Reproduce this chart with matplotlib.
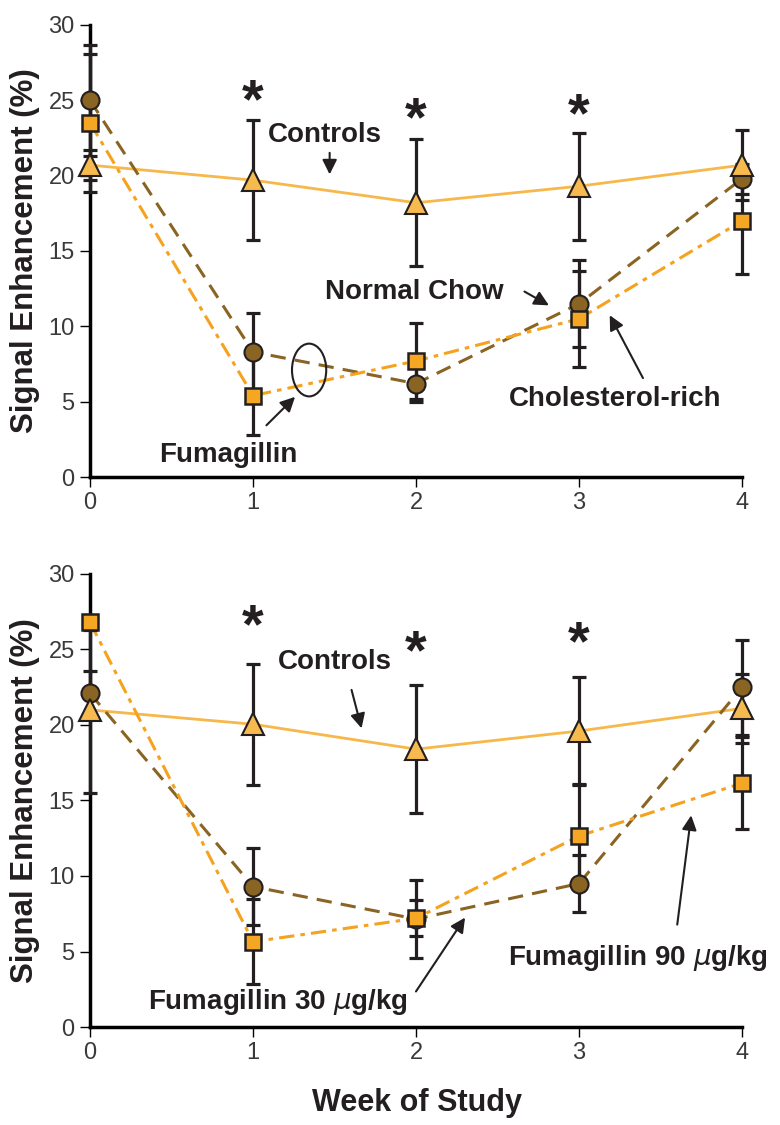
import matplotlib
matplotlib.use("Agg")
import matplotlib.pyplot as plt
from matplotlib.patches import Ellipse

plt.rcParams['font.family'] = ['Liberation Sans', 'DejaVu Sans']

# data
weeks = [0, 1, 2, 3, 4]

# top panel
top_controls = [20.7, 19.7, 18.2, 19.3, 20.7]
top_controls_err = [1.0, 4.0, 4.2, 3.55, 2.3]
top_chow = [25.0, 8.3, 6.2, 11.5, 19.8]
top_chow_err = [3.7, 2.6, 1.2, 2.9, 1.0]
top_chol = [23.5, 5.4, 7.7, 10.5, 17.0]
top_chol_err = [4.6, 2.6, 2.5, 3.2, 3.5]
top_star_weeks = [1, 2, 3]
top_star_y = [24.8, 23.6, 23.9]

# bottom panel
bot_controls = [21.0, 20.05, 18.4, 19.6, 21.1]
bot_controls_err = [5.5, 4.0, 4.25, 3.55, 2.3]
bot_fum30 = [22.1, 9.3, 7.15, 9.5, 22.5]
bot_fum30_err = [1.5, 2.55, 2.6, 1.9, 3.15]
bot_fum90 = [26.8, 5.65, 7.2, 12.65, 16.15]
bot_fum90_err = [0.5, 2.8, 1.2, 3.45, 3.05]
bot_star_weeks = [1, 2, 3]
bot_star_y = [26.4, 24.7, 25.3]

yticks = [0, 5, 10, 15, 20, 25, 30]

c_ctrl = "#F7B84B"
c_tri = "#F6BA4E"
c_sq = "#F5A623"
c_brown = "#8A6422"
c_line_sq = "#F5A21E"
c_ink = "#231F20"

fig = plt.figure(figsize=(7.8, 11.25), dpi=100)
ax1 = fig.add_axes([0.1154, 0.576, 0.836, 0.4018])
ax2 = fig.add_axes([0.1154, 0.0871, 0.836, 0.4027])


def draw_panel(ax, ctrl, ctrl_err, circ, circ_err, sq, sq_err, star_w, star_y):
    # lines
    ax.plot(weeks, ctrl, color=c_ctrl, lw=2.0, zorder=2, clip_on=False)
    ax.plot(weeks, circ, color=c_brown, lw=2.2, dashes=(5, 3), zorder=2, clip_on=False)
    ax.plot(weeks, sq, color=c_line_sq, lw=2.2, dashes=(5, 2, 1.5, 2), zorder=2, clip_on=False)
    # error bars
    for vals, errs in [(ctrl, ctrl_err), (circ, circ_err), (sq, sq_err)]:
        ax.errorbar(weeks, vals, yerr=errs, fmt='none', ecolor=c_ink,
                    elinewidth=2.3, capsize=5, capthick=2.3, zorder=3, clip_on=False)
    # markers
    ax.plot(weeks, circ, 'o', ms=13, mfc=c_brown, mec=c_ink, mew=1.5, zorder=4, clip_on=False)
    ax.plot(weeks, sq, 's', ms=12, mfc=c_sq, mec=c_ink, mew=1.8, zorder=5, clip_on=False)
    ax.plot(weeks, ctrl, '^', ms=16, mfc=c_tri, mec=c_ink, mew=1.5, zorder=6, clip_on=False)
    # asterisks
    for w, y in zip(star_w, star_y):
        ax.text(w, y, "*", ha='center', va='center', fontsize=40, fontweight='bold',
                color=c_ink)

    ax.set_xlim(0, 4)
    ax.set_ylim(0, 30)
    ax.set_xticks(weeks)
    ax.set_yticks(yticks)
    ax.spines['top'].set_visible(False)
    ax.spines['right'].set_visible(False)
    ax.spines['left'].set_linewidth(2.5)
    ax.spines['bottom'].set_linewidth(2.5)
    ax.tick_params(axis='both', direction='out', length=7, width=1.0,
                   labelsize=17, labelcolor='#3a3a3a', pad=4)
    ax.set_ylabel("Signal Enhancement (%)", fontsize=22.5, fontweight='bold',
                  color=c_ink, labelpad=6)


draw_panel(ax1, top_controls, top_controls_err, top_chow, top_chow_err,
           top_chol, top_chol_err, top_star_weeks, top_star_y)
draw_panel(ax2, bot_controls, bot_controls_err, bot_fum30, bot_fum30_err,
           bot_fum90, bot_fum90_err, bot_star_weeks, bot_star_y)

arrow = dict(arrowstyle='-|>', color=c_ink, lw=1.5, mutation_scale=22)
fs = 20

# top annotations
ax1.text(1.44, 22.7, "Controls", ha='center', va='center', fontsize=fs, fontweight='bold', color=c_ink)
ax1.annotate("", xy=(1.47, 19.9), xytext=(1.47, 21.7), arrowprops=arrow)
ax1.text(1.99, 12.3, "Normal Chow", ha='center', va='center', fontsize=fs, fontweight='bold', color=c_ink)
ax1.annotate("", xy=(2.83, 11.3), xytext=(2.65, 12.4), arrowprops=arrow)
ax1.text(3.22, 5.2, "Cholesterol-rich", ha='center', va='center', fontsize=fs, fontweight='bold', color=c_ink)
ax1.annotate("", xy=(3.18, 10.9), xytext=(3.40, 6.4), arrowprops=arrow)
ax1.text(0.85, 1.45, "Fumagillin", ha='center', va='center', fontsize=fs, fontweight='bold', color=c_ink)
ax1.annotate("", xy=(1.27, 5.45), xytext=(1.07, 3.3), arrowprops=arrow)
ax1.add_patch(Ellipse((1.344, 7.1), 0.21, 3.5, fill=False, ec=c_ink, lw=1.5, zorder=5))

# bottom annotations
ax2.text(1.50, 24.2, "Controls", ha='center', va='center', fontsize=fs, fontweight='bold', color=c_ink)
ax2.annotate("", xy=(1.67, 19.6), xytext=(1.60, 22.5), arrowprops=arrow)
ax2.text(1.15, 1.65, r"Fumagillin 30 $\mathit{\mu}$g/kg", ha='center', va='center', fontsize=fs,
         fontweight='bold', color=c_ink)
ax2.annotate("", xy=(2.31, 7.4), xytext=(1.99, 2.2), arrowprops=arrow)
ax2.text(3.36, 4.6, r"Fumagillin 90 $\mathit{\mu}$g/kg", ha='center', va='center', fontsize=fs,
         fontweight='bold', color=c_ink)
ax2.annotate("", xy=(3.69, 14.2), xytext=(3.60, 6.6), arrowprops=arrow)

fig.text(417 / 780, 1 - 1103 / 1125, "Week of Study", ha='center', va='center',
         fontsize=22, fontweight='bold', color=c_ink)

fig.savefig("out.png", dpi=100)
